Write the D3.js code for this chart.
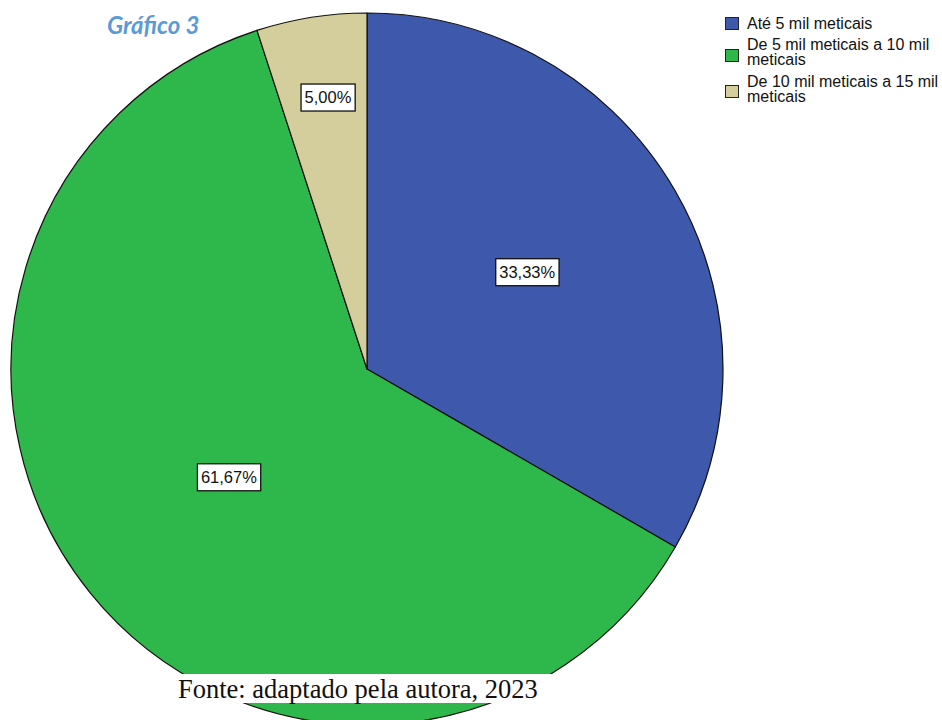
<!DOCTYPE html>
<html>
<head>
<meta charset="utf-8">
<script src="https://cdn.jsdelivr.net/npm/d3@7"></script>
<style>
  html, body { margin: 0; padding: 0; background: #fff; }
  svg { display: block; }
</style>
</head>
<body>
<svg id="chart" width="942" height="720"></svg>
<script>
// Income brackets and their share of respondents (%)
const categories = [
  "Até 5 mil meticais",
  "De 5 mil meticais a 10 mil meticais",
  "De 10 mil meticais a 15 mil meticais"
];
const percentages = [33.33, 61.67, 5.00];
const percentLabels = ["33,33%", "61,67%", "5,00%"];
const legendLines = [
  ["Até 5 mil meticais"],
  ["De 5 mil meticais a 10 mil", "meticais"],
  ["De 10 mil meticais a 15 mil", "meticais"]
];
const sliceColors = ["#3e58ac", "#2eb84b", "#d3ce9b"];

const svg = d3.select("#chart");
const cx = 367, cy = 369, radius = 356;

const color = d3.scaleOrdinal().domain(categories).range(sliceColors);

const pie = d3.pie().sort(null).value(d => d.value);
const data = categories.map((c, i) => ({ name: c, value: percentages[i], label: percentLabels[i] }));
const arcs = pie(data);

const arc = d3.arc().innerRadius(0).outerRadius(radius);

const g = svg.append("g").attr("transform", `translate(${cx},${cy})`);

g.selectAll("path.slice")
  .data(arcs)
  .join("path")
  .attr("class", "slice")
  .attr("d", arc)
  .attr("fill", d => color(d.data.name))
  .attr("stroke", "#111")
  .attr("stroke-width", 1.2)
  .attr("stroke-linejoin", "round");

// Value labels: boxed text near the slice centroid, pushed outward for thin slices
const labelArcNormal = d3.arc().innerRadius(radius * 0.51).outerRadius(radius * 0.51);
const labelArcSmall = d3.arc().innerRadius(radius * 0.755).outerRadius(radius * 0.755);

const labelLayer = g.append("g").attr("transform", "translate(3,-6)");

const labels = labelLayer.selectAll("g.lbl")
  .data(arcs)
  .join("g")
  .attr("class", "lbl")
  .attr("transform", d => {
    const a = d.data.value < 10 ? labelArcSmall : labelArcNormal;
    const [x, y] = a.centroid(d);
    return `translate(${x},${y})`;
  });

labels.each(function(d) {
  const sel = d3.select(this);
  const t = sel.append("text")
    .attr("text-anchor", "middle")
    .attr("dy", "0.36em")
    .attr("font-family", "Liberation Sans, Arial, sans-serif")
    .attr("font-size", 16.5)
    .attr("fill", "#111")
    .text(d.data.label);
  const bb = t.node().getBBox();
  sel.insert("rect", "text")
    .attr("x", bb.x - 3.5)
    .attr("y", -13.5)
    .attr("width", bb.width + 7)
    .attr("height", 27)
    .attr("fill", "#fff")
    .attr("stroke", "#111")
    .attr("stroke-width", 1.3);
});

// Legend
const legend = svg.append("g").attr("transform", "translate(725,17)");
const legendOffsets = [0, 32, 68];
const firstBaseline = [12, 1, 2];
legendLines.forEach((lines, i) => {
  const item = legend.append("g").attr("transform", `translate(0,${legendOffsets[i]})`);
  item.append("rect")
    .attr("x", 0.5).attr("y", 0.5)
    .attr("width", 13).attr("height", 12)
    .attr("fill", sliceColors[i])
    .attr("stroke", "#222")
    .attr("stroke-width", 1);
  lines.forEach((ln, j) => {
    item.append("text")
      .attr("x", 22)
      .attr("y", firstBaseline[i] + j * 14.5)
      .attr("font-family", "Liberation Sans, Arial, sans-serif")
      .attr("font-size", 16)
      .attr("fill", "#111")
      .text(ln);
  });
});

// Title
svg.append("text")
  .attr("x", 107)
  .attr("y", 34)
  .attr("font-family", "Lato, 'Open Sans', sans-serif")
  .attr("font-style", "italic")
  .attr("font-weight", "bold")
  .attr("font-size", 24)
  .attr("fill", "#5b9bd5")
  .text("Gráfico 3");

// Source note on a white band
svg.append("rect")
  .attr("x", 175).attr("y", 674)
  .attr("width", 385).attr("height", 29)
  .attr("fill", "#fff");
svg.append("text")
  .attr("x", 178)
  .attr("y", 698)
  .attr("font-family", "Liberation Serif, 'Times New Roman', serif")
  .attr("font-size", 26.5)
  .attr("fill", "#111")
  .text("Fonte: adaptado pela autora, 2023");
</script>
</body>
</html>
